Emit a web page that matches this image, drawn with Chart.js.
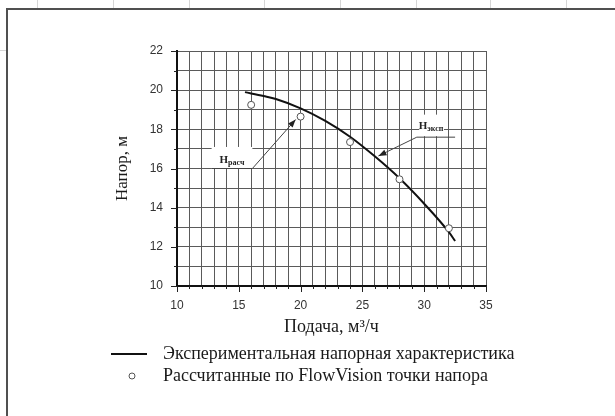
<!DOCTYPE html>
<html>
<head>
<meta charset="utf-8">
<script src="https://cdn.jsdelivr.net/npm/chart.js@4.4.1/dist/chart.umd.min.js"></script>
<style>
  body { margin: 0; background: #fff; }
  #wrap { position: relative; width: 615px; height: 416px; overflow: hidden; background: #fff; }
  .cell-v { position: absolute; top: 0; width: 1px; height: 8px; background: #d6d6d6; }
  .cell-h { position: absolute; left: 0; width: 6px; height: 1px; background: #d6d6d6; }
  #frame { position: absolute; left: 6px; top: 8px; width: 640px; height: 440px;
           border-left: 2px solid #505050; border-top: 2px solid #505050; }
  canvas { position: absolute; left: 0; top: 0; }
</style>
</head>
<body>
<div id="wrap">
  <div class="cell-v" style="left:37px"></div>
  <div class="cell-v" style="left:113px"></div>
  <div class="cell-v" style="left:189px"></div>
  <div class="cell-v" style="left:264px"></div>
  <div class="cell-v" style="left:340px"></div>
  <div class="cell-v" style="left:416px"></div>
  <div class="cell-v" style="left:490px"></div>
  <div class="cell-v" style="left:566px"></div>
  <div class="cell-h" style="top:50px"></div>
  <div id="frame"></div>
  <canvas id="chart" width="615" height="416"></canvas>
</div>
<script>
// экспериментальная кривая
const flowCurve = [15.5, 17, 18, 20, 22, 24, 26, 28, 30, 32, 32.5];
const headCurve = [19.9, 19.7, 19.55, 19.07, 18.43, 17.62, 16.62, 15.5, 14.2, 12.75, 12.3];

// точки FlowVision
const flowCalc = [16, 20, 24, 28, 32];
const headCalc = [19.25, 18.65, 17.35, 15.45, 12.95];

const xTickLabels = [10, 15, 20, 25, 30, 35];
const yTickLabels = [10, 12, 14, 16, 18, 20, 22];

const curveLabel = 'Экспериментальная напорная характеристика';
const calcLabel = 'Рассчитанные по FlowVision точки напора';

// подписи со стрелками, координаты в единицах осей
const notes = [
  { sub: 'расч', at: [14.45, 16.5], box: [12.8, 17.1, 16.1, 16.0],
    path: [[12.8, 16.0], [16.1, 16.0], [19.6, 18.5]] },
  { sub: 'эксп', at: [30.55, 18.2], box: [29.6, 18.75, 31.6, 17.65],
    path: [[32.5, 17.6], [29.4, 17.6], [26.3, 16.64]] }
];

function arrowHead(ctx, x1, y1, x2, y2) {
  const a = Math.atan2(y2 - y1, x2 - x1);
  ctx.beginPath();
  ctx.moveTo(x2, y2);
  ctx.lineTo(x2 - 8 * Math.cos(a) + 3 * Math.sin(a), y2 - 8 * Math.sin(a) - 3 * Math.cos(a));
  ctx.lineTo(x2 - 8 * Math.cos(a) - 3 * Math.sin(a), y2 - 8 * Math.sin(a) + 3 * Math.cos(a));
  ctx.closePath();
  ctx.fill();
}

const decor = {
  id: 'decor',
  afterDraw(chart) {
    const { ctx, scales: { x, y } } = chart;
    ctx.save();

    // засечки: длинные у подписанных значений
    ctx.strokeStyle = '#222';
    ctx.lineWidth = 1;
    ctx.beginPath();
    x.ticks.forEach(t => {
      const px = Math.round(x.getPixelForValue(t.value)) + 0.5;
      const len = xTickLabels.includes(t.value) ? 6 : 3;
      ctx.moveTo(px, y.bottom);
      ctx.lineTo(px, y.bottom + len);
    });
    y.ticks.forEach(t => {
      const py = Math.round(y.getPixelForValue(t.value)) + 0.5;
      const len = yTickLabels.includes(t.value) ? 6 : 3;
      ctx.moveTo(x.left, py);
      ctx.lineTo(x.left - len, py);
    });
    ctx.stroke();

    // подписи H
    notes.forEach(n => {
      const bx1 = x.getPixelForValue(n.box[0]), by1 = y.getPixelForValue(n.box[1]);
      const bx2 = x.getPixelForValue(n.box[2]), by2 = y.getPixelForValue(n.box[3]);
      ctx.fillStyle = '#fff';
      ctx.fillRect(bx1, by1, bx2 - bx1, by2 - by1);

      ctx.strokeStyle = '#444';
      ctx.fillStyle = '#222';
      ctx.lineWidth = 1;
      const pts = n.path.map(p => [x.getPixelForValue(p[0]), y.getPixelForValue(p[1])]);
      ctx.beginPath();
      pts.forEach((p, i) => i ? ctx.lineTo(p[0], p[1]) : ctx.moveTo(p[0], p[1]));
      ctx.stroke();
      const l = pts.length;
      arrowHead(ctx, pts[l - 2][0], pts[l - 2][1], pts[l - 1][0], pts[l - 1][1]);

      const cx = x.getPixelForValue(n.at[0]), cy = y.getPixelForValue(n.at[1]);
      ctx.font = 'bold 11px "Liberation Serif"';
      const wH = ctx.measureText('H').width;
      ctx.font = 'bold 8px "Liberation Serif"';
      const wS = ctx.measureText(n.sub).width;
      const x0 = cx - (wH + wS) / 2;
      ctx.textBaseline = 'alphabetic';
      ctx.textAlign = 'left';
      ctx.font = 'bold 11px "Liberation Serif"';
      ctx.fillText('H', x0, cy + 4);
      ctx.font = 'bold 8px "Liberation Serif"';
      ctx.fillText(n.sub, x0 + wH, cy + 6);
    });

    // легенда
    const ds = chart.data.datasets;
    ctx.font = '18px "Liberation Serif"';
    ctx.fillStyle = '#1a1a1a';
    ctx.textBaseline = 'middle';
    ctx.textAlign = 'left';
    ctx.strokeStyle = '#111';
    ctx.lineWidth = 2;
    ctx.beginPath();
    ctx.moveTo(111, 354);
    ctx.lineTo(147, 354);
    ctx.stroke();
    ctx.fillText(ds[0].label, 163, 354);
    ctx.strokeStyle = '#555';
    ctx.lineWidth = 1;
    ctx.fillStyle = '#fff';
    ctx.beginPath();
    ctx.arc(132, 376, 3, 0, Math.PI * 2);
    ctx.fill();
    ctx.stroke();
    ctx.fillStyle = '#1a1a1a';
    ctx.fillText(ds[1].label, 163, 376);

    ctx.restore();
  }
};

new Chart(document.getElementById('chart'), {
  type: 'scatter',
  data: {
    datasets: [
      {
        label: curveLabel,
        data: flowCurve.map((q, i) => ({ x: q, y: headCurve[i] })),
        showLine: true,
        borderColor: '#111',
        borderWidth: 2,
        pointRadius: 0,
        cubicInterpolationMode: 'monotone',
        order: 2
      },
      {
        label: calcLabel,
        data: flowCalc.map((q, i) => ({ x: q, y: headCalc[i] })),
        showLine: false,
        pointRadius: 3.5,
        pointBorderWidth: 1,
        pointBorderColor: '#555',
        pointBackgroundColor: '#fff',
        order: 1
      }
    ]
  },
  options: {
    responsive: false,
    animation: false,
    layout: { padding: { left: 105, top: 51, right: 129, bottom: 70 } },
    plugins: {
      legend: { display: false },
      tooltip: { enabled: false }
    },
    scales: {
      x: {
        type: 'linear',
        min: 10,
        max: 35,
        afterFit: (s) => { s.height = 60; },
        ticks: {
          stepSize: 1,
          autoSkip: false,
          maxRotation: 0,
          padding: 12,
          color: '#333',
          font: { family: 'Liberation Sans', size: 12 },
          callback: (v) => xTickLabels.includes(v) ? String(v) : ''
        },
        grid: { color: '#5a5a5a', lineWidth: 1, drawTicks: false },
        border: { color: '#111', width: 2 },
        title: {
          display: true,
          text: 'Подача, м³/ч',
          color: '#1a1a1a',
          font: { family: 'Liberation Serif', size: 18 },
          padding: { top: 0, bottom: 8 }
        }
      },
      y: {
        min: 10,
        max: 22,
        afterFit: (s) => { s.width = 72; },
        ticks: {
          stepSize: 1,
          autoSkip: false,
          padding: 14,
          color: '#333',
          font: { family: 'Liberation Sans', size: 12 },
          callback: (v) => yTickLabels.includes(v) ? String(v) : ''
        },
        grid: { color: '#5a5a5a', lineWidth: 1, drawTicks: false },
        border: { color: '#111', width: 2 },
        title: {
          display: true,
          text: 'Напор, м',
          color: '#1a1a1a',
          font: { family: 'Liberation Serif', size: 17 },
          padding: { top: 7, bottom: 0 }
        }
      }
    }
  },
  plugins: [decor]
});
</script>
</body>
</html>
